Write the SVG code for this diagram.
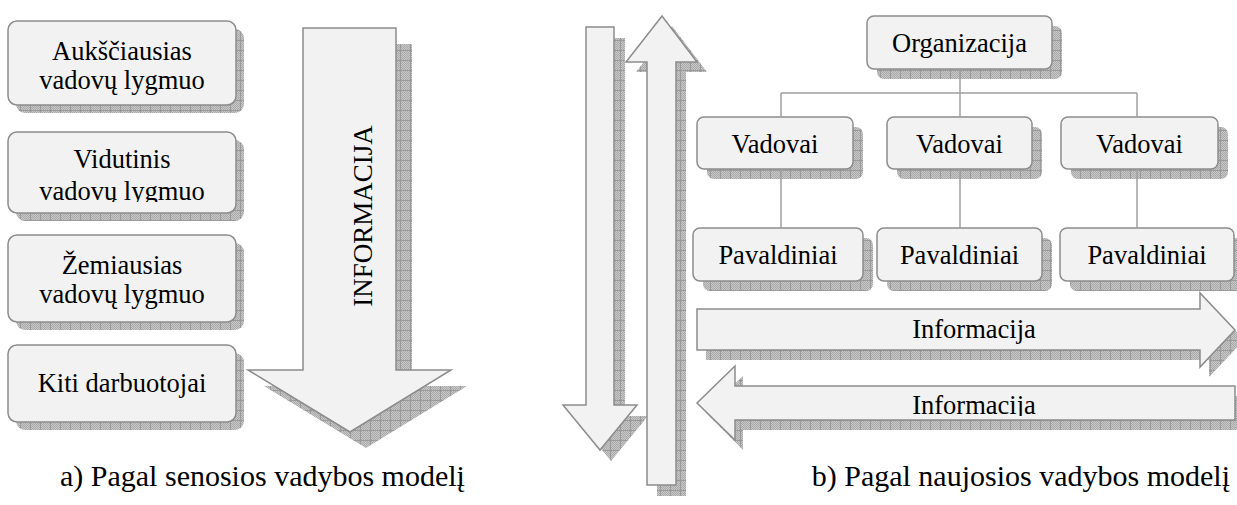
<svg xmlns="http://www.w3.org/2000/svg" width="1237" height="505" viewBox="0 0 1237 505">
<defs>
  <pattern id="dots" width="2" height="2" patternUnits="userSpaceOnUse">
    <rect width="2" height="2" fill="#c8c8c8"/>
    <rect width="1" height="1" fill="#a9a9a9"/>
    <rect x="1" y="1" width="1" height="1" fill="#a9a9a9"/>
  </pattern>
  <pattern id="sh" width="10" height="10" patternUnits="userSpaceOnUse">
    <rect width="10" height="10" fill="url(#dots)"/>
    <path d="M0 0.5H10M0.5 0V10" stroke="#9a9a9a" stroke-width="1" fill="none"/>
  </pattern>
  <clipPath id="clipBox2"><rect x="0" y="0" width="300" height="202"/></clipPath>
  <clipPath id="clipArrL"><rect x="600" y="360" width="637" height="56"/></clipPath>
</defs>
<style>
  .box{fill:#f2f2f2;stroke:#8c8c8c;stroke-width:1.5}
  .shd{fill:url(#sh)}
  .arr{fill:#f2f2f2;stroke:#8c8c8c;stroke-width:1.5;stroke-linejoin:miter}
  text{font-family:"Liberation Serif","Times New Roman",serif;fill:#000}
  .t{font-size:26.5px;text-anchor:middle}
  .cap{font-size:30px}
  .ln{stroke:#a0a0a0;stroke-width:1.5;fill:none}
</style>

<!-- Left panel: hierarchy levels -->
<g id="box-auksciausias">
  <rect class="shd" x="16" y="29" width="228" height="84" rx="9"/>
  <rect class="box" x="8" y="21" width="228" height="84" rx="9"/>
  <text class="t" x="122" y="60">Aukščiausias</text>
  <text class="t" x="122" y="89">vadovų lygmuo</text>
</g>
<g id="box-vidutinis">
  <rect class="shd" x="16" y="140" width="228" height="81" rx="9"/>
  <rect class="box" x="8" y="132" width="228" height="81" rx="9"/>
  <text class="t" x="122" y="168">Vidutinis</text>
  <text class="t" x="122" y="200" clip-path="url(#clipBox2)">vadovų lygmuo</text>
</g>
<g id="box-zemiausias">
  <rect class="shd" x="16" y="243" width="228" height="87" rx="9"/>
  <rect class="box" x="8" y="235" width="228" height="87" rx="9"/>
  <text class="t" x="122" y="274">Žemiausias</text>
  <text class="t" x="122" y="303">vadovų lygmuo</text>
</g>
<g id="box-kiti">
  <rect class="shd" x="16" y="353" width="228" height="77" rx="9"/>
  <rect class="box" x="8" y="345" width="228" height="77" rx="9"/>
  <text class="t" x="122" y="392">Kiti darbuotojai</text>
</g>

<!-- Big down arrow -->
<g id="arrow-informacija-down">
  <path class="shd" d="M319 44H412V386H467L366 448L264 386H319Z"/>
  <path class="arr" d="M303 28H396V370H451L350 432L248 370H303Z"/>
  <text class="t" transform="translate(372 216) rotate(-90)" x="0" y="0" style="font-size:27px">INFORMACIJA</text>
</g>

<!-- Right panel vertical arrows -->
<g id="arrow-vert-down">
  <path class="shd" d="M597 38H625V416H648L611 461L574 416H597Z"/>
  <path class="arr" d="M586 27H614V405H637L600 450L563 405H586Z"/>
</g>
<g id="arrow-vert-up">
  <path class="shd" d="M657 496H686V72H707L672 26L636 72H657Z"/>
  <path class="arr" d="M647 485H676V62H697L662 16L626 62H647Z"/>
</g>

<!-- Org chart nodes -->
<g id="node-organizacija">
  <rect class="shd" x="877" y="26" width="185" height="53" rx="7"/>
  <rect class="box" x="867" y="16" width="185" height="53" rx="7"/>
  <text class="t" x="959.5" y="52">Organizacija</text>
</g>
<g id="node-vadovai-1">
  <rect class="shd" x="707" y="127" width="156" height="52" rx="7"/>
  <rect class="box" x="697" y="117" width="156" height="52" rx="7"/>
  <text class="t" x="775" y="153">Vadovai</text>
</g>
<g id="node-vadovai-2">
  <rect class="shd" x="897" y="127" width="145" height="52" rx="7"/>
  <rect class="box" x="887" y="117" width="145" height="52" rx="7"/>
  <text class="t" x="959.5" y="153">Vadovai</text>
</g>
<g id="node-vadovai-3">
  <rect class="shd" x="1071" y="127" width="157" height="52" rx="7"/>
  <rect class="box" x="1061" y="117" width="157" height="52" rx="7"/>
  <text class="t" x="1139.5" y="153">Vadovai</text>
</g>
<g id="node-pavaldiniai-1">
  <rect class="shd" x="703" y="238" width="170" height="53" rx="7"/>
  <rect class="box" x="693" y="228" width="170" height="53" rx="7"/>
  <text class="t" x="778" y="264">Pavaldiniai</text>
</g>
<g id="node-pavaldiniai-2">
  <rect class="shd" x="887" y="238" width="165" height="53" rx="7"/>
  <rect class="box" x="877" y="228" width="165" height="53" rx="7"/>
  <text class="t" x="959.5" y="264">Pavaldiniai</text>
</g>
<g id="node-pavaldiniai-3">
  <rect class="shd" x="1070" y="238" width="174" height="53" rx="7"/>
  <rect class="box" x="1060" y="228" width="174" height="53" rx="7"/>
  <text class="t" x="1147" y="264">Pavaldiniai</text>
</g>

<!-- Horizontal arrows -->
<g id="arrow-horiz-right">
  <path class="shd" d="M706 319H1209V303L1244 340L1209 377V360H706Z"/>
  <path class="arr" d="M697 309H1200V293L1235 330L1200 367V350H697Z"/>
  <text class="t" x="974" y="338">Informacija</text>
</g>
<g id="arrow-horiz-left">
  <path class="shd" d="M743 396H1245V430H743V450L705 412L743 376Z"/>
  <path class="arr" d="M1235 386H735V366L697 403L735 440V420H1235Z"/>
  <text class="t" x="974" y="414" clip-path="url(#clipArrL)">Informacija</text>
</g>

<!-- Connectors -->
<g id="connectors">
  <path class="ln" d="M960 69V93M781 93H1137M781 93V117M960 93V117M1137 93V117"/>
  <path class="ln" d="M781 169V228M960 169V228M1137 169V228"/>
</g>

<!-- Captions -->
<g id="captions">
  <text class="cap" x="60" y="486">a) Pagal senosios vadybos modelį</text>
  <text class="cap" x="1230" y="486" text-anchor="end">b) Pagal naujosios vadybos modelį</text>
</g>
</svg>
